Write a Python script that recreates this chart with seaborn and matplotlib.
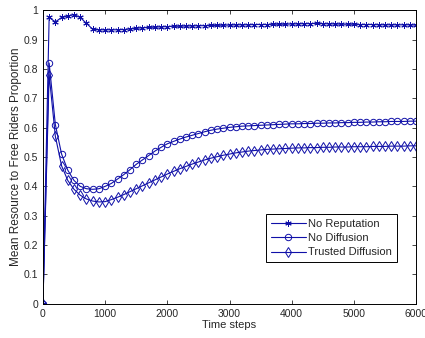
import pandas as pd
import numpy as np
import seaborn as sns
import matplotlib
matplotlib.use("Agg")
import matplotlib.pyplot as plt

## time steps, one sample every 100 steps
steps = list(range(0, 6001, 100))

no_reputation = [0.0, 0.975, 0.96, 0.975, 0.98, 0.985, 0.975, 0.955, 0.935, 0.933,
                 0.933, 0.933, 0.933, 0.934, 0.936, 0.938, 0.94, 0.941, 0.942, 0.943,
                 0.944, 0.945, 0.945, 0.946, 0.946, 0.947, 0.947, 0.948, 0.948, 0.949,
                 0.949, 0.95, 0.95, 0.95, 0.951, 0.951, 0.951, 0.952, 0.952, 0.952,
                 0.953, 0.953, 0.954, 0.954, 0.955, 0.954, 0.953, 0.953, 0.952, 0.952,
                 0.952, 0.951, 0.951, 0.951, 0.95, 0.95, 0.95, 0.95, 0.95, 0.95,
                 0.949]

no_diffusion = [0.0, 0.82, 0.61, 0.51, 0.455, 0.42, 0.40, 0.392, 0.39, 0.392,
                0.40, 0.41, 0.425, 0.44, 0.457, 0.475, 0.49, 0.505, 0.52, 0.533,
                0.545, 0.553, 0.561, 0.568, 0.574, 0.58, 0.586, 0.591, 0.595, 0.598,
                0.601, 0.603, 0.605, 0.606, 0.607, 0.608, 0.609, 0.61, 0.611, 0.612,
                0.613, 0.613, 0.614, 0.614, 0.615, 0.615, 0.616, 0.616, 0.617, 0.617,
                0.618, 0.618, 0.619, 0.619, 0.62, 0.62, 0.621, 0.621, 0.621, 0.622,
                0.622]

trusted_diffusion = [0.0, 0.78, 0.57, 0.47, 0.42, 0.39, 0.37, 0.357, 0.35, 0.347,
                     0.348, 0.355, 0.363, 0.372, 0.382, 0.392, 0.402, 0.412, 0.422, 0.432,
                     0.442, 0.451, 0.46, 0.468, 0.476, 0.483, 0.49, 0.496, 0.501, 0.506,
                     0.51, 0.514, 0.517, 0.52, 0.522, 0.524, 0.526, 0.527, 0.528, 0.529,
                     0.53, 0.531, 0.531, 0.532, 0.532, 0.533, 0.533, 0.534, 0.534, 0.534,
                     0.535, 0.535, 0.535, 0.536, 0.536, 0.536, 0.537, 0.537, 0.537, 0.538,
                     0.538]

labels = ["No Reputation", "No Diffusion", "Trusted Diffusion"]
markers = [(6, 2, 0), "o", "d"]
x_ticks = [0, 1000, 2000, 3000, 4000, 5000, 6000]
y_ticks = [0, 0.1, 0.2, 0.3, 0.4, 0.5, 0.6, 0.7, 0.8, 0.9, 1]

sns.set_style("ticks")
plt.rcParams['font.family'] = ['Liberation Sans', 'DejaVu Sans']

col = "#1010a8"
fig = plt.figure(figsize=(4.25, 3.38), dpi=100)
ax = fig.add_axes([0.101, 0.101, 0.878, 0.869])

for vals, lab, mk in zip([no_reputation, no_diffusion, trusted_diffusion], labels, markers):
    df = pd.DataFrame({"t": steps, "v": vals})
    sns.lineplot(data=df, x="t", y="v", ax=ax, color=col, marker=mk, label=lab,
                 markersize=4.6, markerfacecolor="none",
                 markeredgecolor=col, markeredgewidth=0.7, linewidth=0.8)

ax.set_xlim(0, 6000)
ax.set_ylim(0, 1)
ax.set_xticks(x_ticks)
ax.set_yticks(y_ticks)
ax.set_yticklabels(["0", "0.1", "0.2", "0.3", "0.4", "0.5", "0.6", "0.7", "0.8", "0.9", "1"])
ax.tick_params(direction="in", top=True, right=True, labelsize=7.5, length=3, width=0.6)
for s in ax.spines.values():
    s.set_linewidth(0.7)
    s.set_color("black")
ax.set_xlabel("Time steps", fontsize=8, labelpad=1)
ax.set_ylabel("Mean Resource to Free Riders Proportion", fontsize=8.5, labelpad=1)

leg = ax.legend(loc="lower right", bbox_to_anchor=(0.963, 0.124), fontsize=8,
                frameon=True, fancybox=False, edgecolor="black", framealpha=1,
                handlelength=3.2, borderpad=0.4, labelspacing=0.4, handletextpad=0.2)
leg.get_frame().set_linewidth(0.7)

fig.savefig("out.png", dpi=100, facecolor="white")
